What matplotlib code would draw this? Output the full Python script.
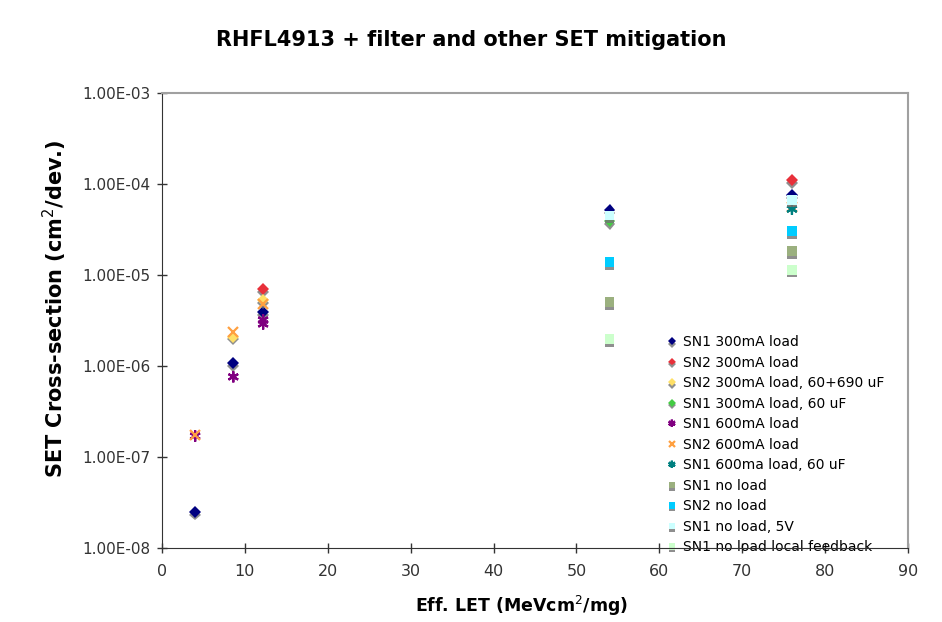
import numpy as np
import matplotlib
matplotlib.use('agg')
import matplotlib.pyplot as plt
import matplotlib.patheffects as pe
from matplotlib.ticker import FixedLocator, FuncFormatter

plt.rcParams['font.family'] = 'DejaVu Sans'

# series: (label, x values, y values)
labels = [
    'SN1 300mA load',
    'SN2 300mA load',
    'SN2 300mA load, 60+690 uF',
    'SN1 300mA load, 60 uF',
    'SN1 600mA load',
    'SN2 600mA load',
    'SN1 600ma load, 60 uF',
    'SN1 no load',
    'SN2 no load',
    'SN1 no load, 5V',
    'SN1 no load local feedback',
]
xs = [
    [4.0, 8.6, 12.2, 54.0, 76.0],
    [12.2, 76.0],
    [8.6, 12.2],
    [54.0],
    [4.0, 8.6, 12.2, 12.2],
    [4.0, 8.6, 12.2, 76.0],
    [76.0],
    [54.0, 76.0],
    [54.0, 76.0],
    [54.0, 76.0],
    [54.0, 76.0],
]
ys = [
    [2.5e-8, 1.08e-6, 3.9e-6, 5.2e-5, 7.6e-5],
    [7.0e-6, 1.1e-4],
    [2.1e-6, 5.3e-6],
    [3.9e-5],
    [1.7e-7, 7.6e-7, 3.2e-6, 2.9e-6],
    [1.75e-7, 2.37e-6, 4.8e-6, 5.6e-5],
    [5.3e-5],
    [5.05e-6, 1.84e-5],
    [1.39e-5, 3.05e-5],
    [4.5e-5, 6.7e-5],
    [1.98e-6, 1.14e-5],
]
colors = ['#000080', '#e8303a', '#ffe066', '#44cc44', '#800080', '#ffa040',
          '#008080', '#9bb07f', '#00ccff', '#ccffff', '#ccffcc']
markers = ['D', 'D', 'D', 'D', (6, 2, 0), 'x', (6, 2, 0), 's', 's', 's', 's']
msizes = [6, 6, 6, 6, 8, 7, 8, 7, 7, 7, 7]

xticks = [0, 10, 20, 30, 40, 50, 60, 70, 80, 90]
yticks = [1e-8, 1e-7, 1e-6, 1e-5, 1e-4, 1e-3]

fig = plt.figure(figsize=(9.42, 6.22), dpi=100)
ax = fig.add_axes([162/942, 1 - 548/622, (908 - 162)/942, (548 - 93)/622])

shadow = [pe.SimplePatchShadow(offset=(0, -2), shadow_rgbFace='0.45', alpha=0.8), pe.Normal()]

for lab, x, y, c, m, s in zip(labels, xs, ys, colors, markers, msizes):
    filled = m in ('D', 's')
    ax.plot(x, y, linestyle='none', marker=m, markersize=s, color=c,
            markeredgewidth=0 if filled else 1.6, label=lab,
            path_effects=shadow)

ax.set_yscale('log')
ax.set_xlim(0, 90)
ax.set_ylim(1e-8, 1e-3)
ax.xaxis.set_major_locator(FixedLocator(xticks))
ax.yaxis.set_major_locator(FixedLocator(yticks))
ax.yaxis.set_minor_locator(FixedLocator([]))
ax.yaxis.set_major_formatter(FuncFormatter(lambda v, p: '%.2E' % v))
ax.tick_params(direction='inout', length=7, width=1, colors='#333333', labelsize=11, pad=5)
ax.tick_params(axis='x', labelsize=11.5, pad=8)

for side in ['left', 'bottom']:
    ax.spines[side].set_color('#333333')
for side in ['top', 'right']:
    ax.spines[side].set_color('#a0a0a0')
    ax.spines[side].set_linewidth(1.5)

fig.suptitle('RHFL4913 + filter and other SET mitigation', x=0.5, y=1 - 40/622,
             fontsize=15, fontweight='bold', va='center')
ax.set_ylabel('SET Cross-section (cm$^2$/dev.)', fontsize=15, fontweight='bold', va='center')
ax.yaxis.set_label_coords((55 - 162)/746, (548 - 309)/455)
ax.set_xlabel('Eff. LET (MeVcm$^2$/mg)', fontsize=12.5, fontweight='bold', va='center')
ax.xaxis.set_label_coords((522 - 162)/746, (548 - 606)/455)

leg = ax.legend(loc='upper left', bbox_to_anchor=(667/942, 1 - 335/622),
                bbox_transform=fig.transFigure, frameon=False, fontsize=10,
                handlelength=0.7, handletextpad=0.45, labelspacing=0.47,
                borderpad=0, borderaxespad=0, numpoints=1, markerscale=0.65)
leg.set_zorder(2)

fig.savefig('out.png', dpi=100)
